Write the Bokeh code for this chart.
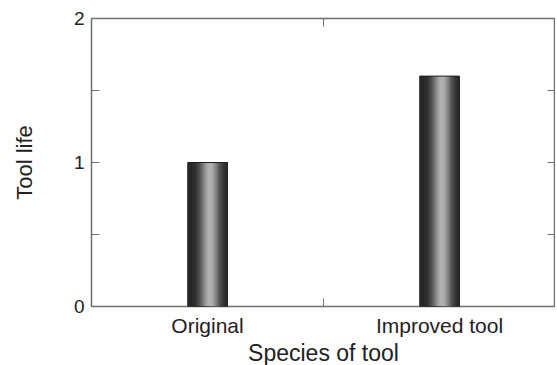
import math
from bokeh.plotting import figure
from bokeh.models import Range1d, LinearAxis, FixedTicker
from bokeh.embed import file_html
from bokeh.resources import INLINE

# ---- data ----
categories = ["Original", "Improved tool"]
tool_life = [1.0, 1.6]
y_ticks = [0, 1, 2]
y_minor = [0.5, 1.5]

x_pos = [i + 0.5 for i in range(len(categories))]
bar_width = 0.17
FONT = "Liberation Sans"
TXT = "#222222"
FRAME = "#6e6e6e"

p = figure(frame_width=464, frame_height=288,
           x_range=Range1d(0, len(categories)), y_range=Range1d(0, 2),
           x_axis_type=None, y_axis_type=None,
           output_backend="svg", toolbar_location=None,
           min_border_left=91, min_border_right=0, min_border_top=18, min_border_bottom=45)
p.outline_line_color = FRAME
p.outline_line_width = 1.5
p.background_fill_color = "white"
p.border_fill_color = "white"

# gradient bars drawn as overlapping strips (each from its start to the right edge)
N = 30
sw = bar_width / N
for k in range(N):
    t = (k + 0.5) / N
    v = int(38 + 140 * math.exp(-((t - 0.56) / 0.24) ** 2))
    col = "#%02x%02x%02x" % (v, v, v)
    w = bar_width - k * sw
    xs = [x + bar_width / 2 - w / 2 for x in x_pos]
    p.vbar(x=xs, top=tool_life, bottom=0, width=w,
           fill_color=col, line_color=None)
p.vbar(x=x_pos, top=tool_life, bottom=0, width=bar_width,
       fill_color=None, line_color="#1e1e1e", line_width=1)

def style(ax):
    ax.axis_line_color = None
    ax.major_tick_line_color = "#707070"
    ax.minor_tick_line_color = "#707070"
    ax.major_tick_in = 8
    ax.major_tick_out = 0
    ax.minor_tick_in = 8
    ax.minor_tick_out = 0
    ax.major_label_text_font = FONT
    ax.major_label_text_color = TXT
    ax.axis_label_text_font = FONT
    ax.axis_label_text_font_style = "normal"
    ax.axis_label_text_color = TXT

left = LinearAxis(ticker=FixedTicker(ticks=y_ticks, minor_ticks=y_minor),
                  axis_label="Tool life")
style(left)
left.major_label_text_font_size = "19px"
left.axis_label_text_font_size = "22px"
left.major_label_standoff = 7
left.axis_label_standoff = 34
p.add_layout(left, "left")

right = LinearAxis(ticker=FixedTicker(ticks=[], minor_ticks=y_ticks + y_minor))
style(right)
right.major_label_standoff = 0
p.add_layout(right, "right")

bottom = LinearAxis(ticker=FixedTicker(ticks=x_pos, minor_ticks=[1.0]),
                    axis_label="Species of tool",
                    major_label_overrides={x: c for x, c in zip(x_pos, categories)})
style(bottom)
bottom.major_tick_in = 0
bottom.major_label_text_font_size = "21px"
bottom.axis_label_text_font_size = "23px"
bottom.major_label_standoff = 7
bottom.axis_label_standoff = 0
p.add_layout(bottom, "below")

top = LinearAxis(ticker=FixedTicker(ticks=[], minor_ticks=[1.0]))
style(top)
top.major_label_standoff = 0
p.add_layout(top, "above")

open("out.html", "w").write(file_html(p, INLINE))
